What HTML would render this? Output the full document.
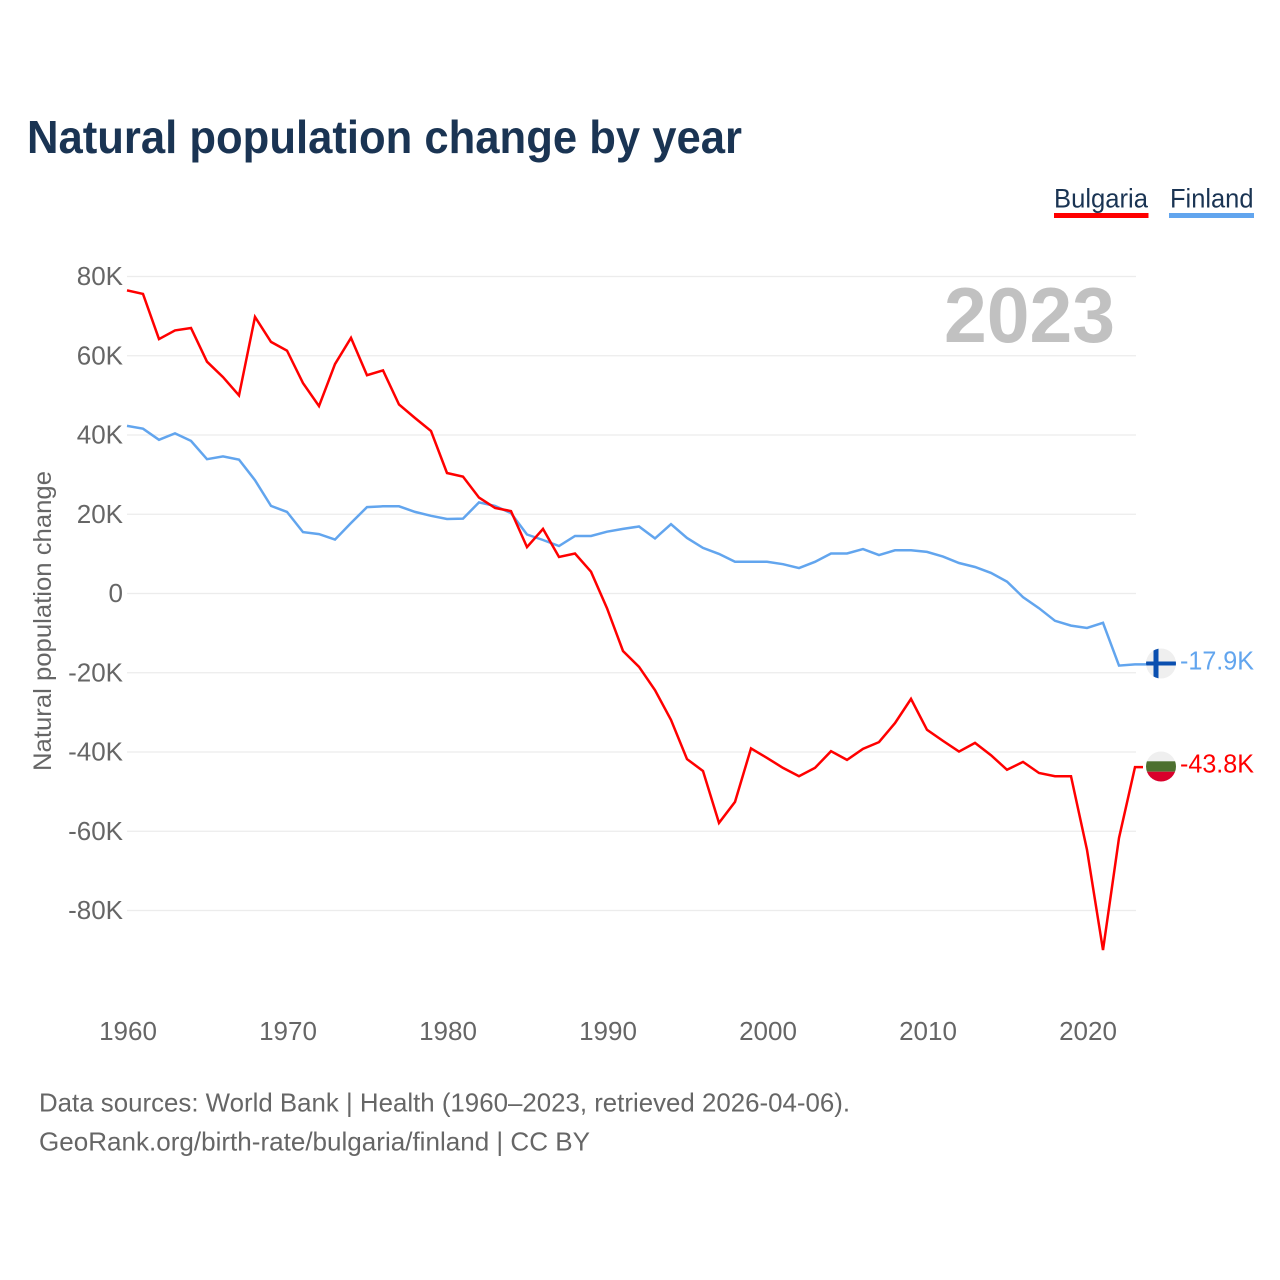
<!DOCTYPE html>
<html lang="en">
<head>
<meta charset="utf-8">
<title>Natural population change by year</title>
<style>
html,body{margin:0;padding:0;background:#fff;width:1280px;height:1280px;overflow:hidden}
svg{display:block}
text{font-family:"Liberation Sans",sans-serif}
</style>
</head>
<body>
<svg id="chart" xmlns="http://www.w3.org/2000/svg" width="1280" height="1280" viewBox="0 0 1280 1280">
  <rect width="1280" height="1280" fill="#fff"/>
  <text x="27" y="153" font-size="46" font-weight="700" fill="#1a3453" textLength="715" lengthAdjust="spacingAndGlyphs">Natural population change by year</text>

  <g>
    <text x="1054" y="207.500" font-size="26.500" fill="#1a3453" textLength="94" lengthAdjust="spacingAndGlyphs">Bulgaria</text>
    <rect x="1054" y="213" width="94.500" height="5" fill="#ff0000"/>
    <text x="1170" y="207.500" font-size="26.500" fill="#1a3453" textLength="83.500" lengthAdjust="spacingAndGlyphs">Finland</text>
    <rect x="1169" y="213" width="85" height="5" fill="#62a5ee"/>
  </g>

  <g id="grid"></g>
  <text x="944" y="342" font-size="78" font-weight="700" fill="#c1c1c1" textLength="171" lengthAdjust="spacingAndGlyphs">2023</text>
  <g id="yticks"></g>
  <g id="xticks"></g>
  <text transform="translate(51,771) rotate(-90)" font-size="25" fill="#666" textLength="300" lengthAdjust="spacingAndGlyphs">Natural population change</text>
  <g id="series"></g>

  <defs>
    <clipPath id="clip-fi"><circle cx="1161" cy="663.500" r="15"/></clipPath>
    <clipPath id="clip-bg"><circle cx="1161" cy="766.500" r="15"/></clipPath>
  </defs>
  <g clip-path="url(#clip-fi)">
    <rect x="1146" y="648" width="30" height="31" fill="#efefef"/>
    <rect x="1146" y="661.500" width="30" height="4" fill="#0a4fb0"/>
    <rect x="1153.500" y="648" width="5" height="31" fill="#0a4fb0"/>
  </g>
  <g clip-path="url(#clip-bg)">
    <rect x="1146" y="751" width="30" height="11" fill="#efefef"/>
    <rect x="1146" y="761.300" width="30" height="10.400" fill="#4d702f"/>
    <rect x="1146" y="771.700" width="30" height="11" fill="#d9002b"/>
  </g>
  <text x="1180" y="669.500" font-size="25.500" fill="#62a5ee" textLength="74" lengthAdjust="spacingAndGlyphs">-17.9K</text>
  <text x="1180" y="772.500" font-size="25.500" fill="#ff0000" textLength="74" lengthAdjust="spacingAndGlyphs">-43.8K</text>

  <text x="39" y="1111.500" font-size="26" fill="#666" textLength="811" lengthAdjust="spacingAndGlyphs">Data sources: World Bank | Health (1960–2023, retrieved 2026-04-06).</text>
  <text x="39" y="1150.500" font-size="26" fill="#666" textLength="551" lengthAdjust="spacingAndGlyphs">GeoRank.org/birth-rate/bulgaria/finland | CC BY</text>
</svg>
<script>
const startYear = 1960;
const bulgariaValues = [76.5,75.6,64.2,66.4,67.0,58.5,54.6,50.0,69.8,63.5,61.3,53.1,47.3,57.9,64.5,55.1,56.3,47.7,44.3,41.0,30.4,29.5,24.2,21.6,20.8,11.7,16.3,9.2,10.1,5.5,-3.7,-14.5,-18.5,-24.4,-31.9,-41.8,-44.8,-57.9,-52.6,-39.1,-41.5,-44.0,-46.1,-44.0,-39.8,-42.0,-39.2,-37.5,-32.7,-26.6,-34.4,-37.2,-39.9,-37.7,-40.8,-44.5,-42.5,-45.3,-46.1,-46.1,-64.7,-90.0,-61.7,-43.8];
const finlandValues = [42.3,41.6,38.8,40.4,38.5,33.9,34.6,33.8,28.6,22.1,20.6,15.5,15.0,13.6,17.8,21.8,22.0,22.0,20.6,19.6,18.8,18.9,23.0,22.1,20.3,14.9,13.5,12.0,14.5,14.5,15.6,16.3,16.9,13.9,17.5,14.0,11.5,10.0,8.0,8.0,8.0,7.4,6.4,8.0,10.1,10.1,11.2,9.7,10.9,10.9,10.5,9.3,7.7,6.7,5.2,3.0,-0.9,-3.7,-6.9,-8.1,-8.7,-7.4,-18.2,-17.9];
const yTickValues = [80,60,40,20,0,-20,-40,-60,-80];
const xTickYears = [1960,1970,1980,1990,2000,2010,2020];

const NS = 'http://www.w3.org/2000/svg';
function xScale(year){ return 127 + (year - 1960) * 16; }
function yScale(v){ return 593.5 - v * 3.9625; }
function yLabel(v){ return v === 0 ? '0' : v + 'K'; }
function make(tag, attrs, parent){
  const el = document.createElementNS(NS, tag);
  for (const k in attrs) el.setAttribute(k, attrs[k]);
  parent.appendChild(el);
  return el;
}
const gridG = document.getElementById('grid');
const yG = document.getElementById('yticks');
const xG = document.getElementById('xticks');
const seriesG = document.getElementById('series');

yTickValues.forEach(function(v){
  const line = make('line', {x1:127, x2:1136, y1:yScale(v), y2:yScale(v), stroke:'#ececec', 'stroke-width':1.2}, gridG);
  
  
  const t = make('text', {x:123, y:yScale(v)+8.5, 'text-anchor':'end', 'font-size':26, fill:'#666'}, yG);
  
  
  t.textContent = yLabel(v);
});
xTickYears.forEach(function(y){
  const t = make('text', {x:xScale(y)+1, y:1040, 'text-anchor':'middle', 'font-size':26, fill:'#666'}, xG);
  
  
  t.textContent = y;
});
function pointsFor(values){
  return values.map(function(v, i){ return xScale(startYear + i).toFixed(1) + ',' + yScale(v).toFixed(1); });
}
function drawSeries(values, color, endX){
  const pts = pointsFor(values);
  const last = values[values.length - 1];
  pts.push(endX + ',' + yScale(last).toFixed(1));
  return make('polyline', {points:pts.join(' '), fill:'none', stroke:color, 'stroke-width':2.5, 'stroke-linejoin':'miter'}, seriesG);
}
const finlandLine = drawSeries(finlandValues, '#62a5ee', 1146);


const bulgariaLine = drawSeries(bulgariaValues, '#ff0000', 1143);


</script>
</body>
</html>
